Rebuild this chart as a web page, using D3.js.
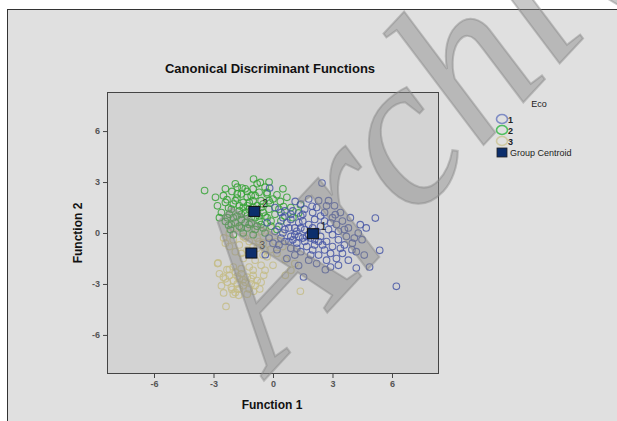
<!DOCTYPE html>
<html><head><meta charset="utf-8">
<script src="https://cdn.jsdelivr.net/npm/d3@7"></script>
<style>body{margin:0;background:#fff}svg{display:block}</style>
</head><body>
<svg id="c" width="617" height="421"></svg>
<script>
const title = "Canonical Discriminant Functions";
const xTicks = [-6, -3, 0, 3, 6];
const yTicks = [-6, -3, 0, 3, 6];
const groups = ["1", "2", "3"];
const legendTitle = "Eco";
const centroidLabel = "Group Centroid";
const watermark = "Archive";
const centroids = [[2.01, -0.04], [-0.94, 1.27], [-1.09, -1.18]];

const group1 = [[2.47,2.94],[1.97,1.57],[1.12,1.86],[-0.17,2.65],[2.3,1.9],[2.7,1.6],[3.14,1.08],[3.0,0.9],[2.6,1.2],[1.6,1.4],[1.4,1.0],[0.9,0.8],[0.5,0.9],[0.3,0.4],[0.1,0.1],[-0.2,-0.3],[0.2,-0.98],[-0.39,-1.28],[0.6,-0.5],[0.9,-0.2],[1.1,0.3],[1.3,0.6],[1.6,0.2],[1.8,0.5],[2.1,0.8],[2.4,0.4],[2.8,0.2],[3.2,0.5],[3.5,0.7],[3.8,0.3],[4.4,0.49],[5.16,0.88],[4.49,-0.39],[3.98,-0.98],[3.6,-0.7],[3.3,-0.4],[3.0,-0.1],[2.7,-0.5],[2.4,-0.2],[2.1,-0.4],[1.8,-0.1],[1.5,-0.3],[1.2,-0.6],[0.9,-0.9],[1.4,-1.1],[1.7,-0.8],[2.0,-1.0],[2.3,-1.3],[2.6,-1.0],[2.9,-1.2],[3.2,-1.5],[3.5,-1.2],[3.8,-1.6],[4.2,-1.1],[4.6,-1.3],[5.38,-1.02],[4.87,-2.0],[4.2,-2.06],[3.3,-1.9],[2.9,-2.0],[2.64,-2.16],[2.2,-1.8],[1.8,-1.6],[1.54,-2.59],[1.29,-1.92],[6.22,-3.14],[0.7,-1.5],[0.5,0.0],[1.0,1.3],[2.0,1.2],[3.4,1.2],[3.9,0.9],[4.1,-0.3],[3.7,-0.2],[1.3,-0.2],[0.8,0.3],[1.9,-0.3],[2.2,0.1],[2.5,-0.7],[1.0,-0.4],[0.4,-0.3],[0.7,0.6],[1.5,0.7],[2.9,0.6],[3.3,0.1],[4.0,-0.6],[2.1,-0.7],[1.6,-0.5],[1.2,0.1],[0.6,1.3],[1.8,2.0],[2.2,1.5],[2.6,0.7],[0.1,1.5],[-0.3,0.6],[0.0,-0.6],[1.1,-1.3],[3.0,-0.8],[3.6,0.2],[4.3,0.0],[1.4,1.7],[2.8,1.9],[0.8,-0.5],[1.1,-0.1],[1.4,0.3],[1.7,-0.2],[2.3,-0.5],[2.0,0.3],[1.5,1.1],[0.6,0.2],[0.3,-0.7],[2.7,-1.6],[3.4,-0.9],[4.7,0.3],[3.1,1.6],[2.4,1.0],[0.9,1.1],[1.9,-1.3],[0.4,1.2],[1.2,-0.9]];

const group2 = [[-3.45,2.5],[-0.98,3.18],[-0.64,2.98],[-1.9,2.9],[-1.56,2.65],[-2.07,2.45],[-1.31,2.45],[-0.3,2.39],[-2.32,1.96],[-1.82,2.06],[-2.24,1.47],[-2.4,1.8],[0.2,2.25],[0.37,1.86],[-0.14,1.76],[0.53,1.56],[1.38,1.66],[1.29,1.18],[-2.4,0.68],[-2.24,0.45],[-2.15,0.2],[-1.82,1.0],[-1.5,1.5],[-1.2,1.8],[-0.8,1.6],[-0.5,1.2],[-0.3,0.9],[-0.7,0.7],[-1.1,0.9],[-1.4,0.6],[-1.7,1.3],[-2.0,1.7],[-1.3,2.1],[-0.9,2.2],[-0.6,1.9],[-0.2,1.4],[0.1,1.1],[0.4,0.7],[-0.1,0.4],[-0.5,0.3],[-0.9,0.2],[-1.3,0.3],[-1.7,0.4],[-2.0,0.9],[-1.9,1.9],[-1.6,2.3],[-1.0,2.6],[-0.4,2.7],[0.0,2.0],[-1.4,1.2],[-1.0,1.5],[-0.7,1.0],[-1.2,0.5],[-1.6,0.8],[-2.6,1.2],[-2.8,1.6],[-2.5,2.2],[-0.2,3.0],[0.7,2.1],[0.9,1.5],[1.0,0.9],[-0.4,0.0],[-1.0,-0.1],[-1.5,0.0],[-2.0,-0.1],[-2.3,0.9],[-0.8,2.9],[-1.8,2.7],[-1.1,2.2],[-0.3,2.3],[0.3,1.4],[-0.1,0.7],[-0.6,0.5],[-1.9,0.6],[-2.2,1.1],[-1.5,1.8],[-0.9,1.2],[-1.2,1.4],[-0.6,1.5],[-1.7,1.6],[-2.4,2.6],[-0.8,0.4],[0.6,1.0],[0.2,0.2],[-1.3,1.0],[-0.9,0.9],[-1.6,1.1],[-2.1,1.4],[-1.8,2.3],[-1.4,2.6],[-0.7,2.4],[-0.5,1.7],[-1.0,1.9],[-1.3,1.6],[-0.4,1.0],[-2.1,0.5],[-1.1,0.6],[-0.2,1.9],[0.5,2.6],[-2.7,0.9],[-2.9,2.1],[-1.6,0.3]];

const group3 = [[-2.49,-0.29],[-2.4,-0.6],[-2.77,-1.76],[-2.32,-2.16],[-2.79,-1.8],[-2.49,-3.53],[-2.37,-4.32],[-1.73,-3.67],[-0.98,-3.43],[-0.67,-3.3],[-0.47,-2.49],[1.38,-3.43],[0.62,-2.49],[-2.07,-3.33],[0.62,-1.57],[-0.14,-0.98],[-1.5,-0.2],[-1.2,-0.5],[-0.8,-0.3],[-0.5,-0.6],[-0.2,-0.2],[0.1,-0.5],[-0.4,-1.0],[-0.8,-0.9],[-1.3,-1.0],[-1.7,-0.7],[-2.0,-0.4],[-1.9,-1.1],[-1.5,-1.5],[-0.9,-1.6],[-0.3,-1.4],[0.2,-1.2],[0.5,-0.8],[-1.1,0.2],[-0.6,0.1],[-2.2,0.0],[-1.8,0.3],[-0.1,0.3],[0.4,-0.1],[-1.0,-1.2],[-0.6,-1.9],[-1.2,-2.0],[0.0,-1.9],[0.9,-2.2],[1.1,-1.8],[-2.2,-2.5],[-1.9,-2.3],[-1.6,-2.4],[-1.3,-2.6],[-1.0,-2.5],[-2.0,-2.8],[-1.7,-2.7],[-1.4,-2.9],[-2.3,-2.9],[-1.8,-3.0],[-1.5,-3.1],[-1.1,-3.0],[-0.8,-2.8],[-2.6,-3.1],[-2.1,-3.2],[-1.2,-3.3],[-1.9,-3.5],[-2.5,-2.6],[-0.6,-2.9],[-1.6,-2.1],[-2.0,-2.0],[-1.0,-2.2],[-0.4,-2.2],[-2.7,-2.4],[-1.3,-3.6],[-1.8,-2.55],[-1.5,-2.75],[-2.2,-2.15],[-1.4,-0.3],[-0.7,-0.5],[-1.0,-0.8],[-1.6,-1.2],[-2.2,-0.8],[-0.5,-1.3],[-1.8,-3.3],[-2.4,-2.7],[-1.1,-2.7],[-1.7,-3.3],[-2.0,-3.6],[-0.9,-3.1]];

const pointColors = ["#4656a6", "#36a336", "#c4bc86"];
const legendColors = ["#7f8cc4", "#4fbf5f", "#cfc9a2"];

const svg = d3.select("#c");
const font = "Arial, 'Liberation Sans', sans-serif";

// outer panel
svg.append("rect").attr("x", 7.5).attr("y", 9.5).attr("width", 700).attr("height", 500)
  .attr("fill", "#e0e0e0").attr("stroke", "#333").attr("stroke-width", 1);

const x = d3.scaleLinear().domain([-8.37, 8.37]).range([107, 439]);
const y = d3.scaleLinear().domain([-8.3, 8.3]).range([374, 92]);

svg.append("rect").attr("x", 107).attr("y", 92).attr("width", 332).attr("height", 282)
  .attr("fill", "#d3d3d3");

// title
svg.append("text").attr("x", 270).attr("y", 73).attr("text-anchor", "middle")
  .attr("font-family", font).attr("font-weight", "bold").attr("font-size", 13).attr("fill", "#111")
  .text(title);

// axes
const xAxis = svg.append("g").attr("transform", "translate(0,374)")
  .call(d3.axisBottom(x).tickValues(xTicks).tickSize(4).tickPadding(3).tickFormat(d => String(d)));
const yAxis = svg.append("g").attr("transform", "translate(107,0)")
  .call(d3.axisLeft(y).tickValues(yTicks).tickSize(4).tickPadding(3).tickFormat(d => String(d)));
[xAxis, yAxis].forEach(a => {
  a.select(".domain").remove();
  a.selectAll(".tick line").attr("stroke", "#444");
  a.selectAll(".tick text").attr("font-family", font).attr("font-size", 9).attr("font-weight", "bold").attr("fill", "#555");
});

svg.append("text").attr("x", 272).attr("y", 409).attr("text-anchor", "middle")
  .attr("font-family", font).attr("font-weight", "bold").attr("font-size", 12).attr("fill", "#111")
  .text("Function 1");
svg.append("text").attr("transform", "translate(82,233) rotate(-90)").attr("text-anchor", "middle")
  .attr("font-family", font).attr("font-weight", "bold").attr("font-size", 12).attr("fill", "#111")
  .text("Function 2");

// points
const plot = svg.append("g");
[[group3, 2], [group2, 1], [group1, 0]].forEach(([data, gi]) => {
  plot.selectAll(null).data(data).enter().append("circle")
    .attr("cx", d => x(d[0])).attr("cy", d => y(d[1])).attr("r", 3.3)
    .attr("fill", "none").attr("stroke", pointColors[gi]).attr("stroke-width", 1.1).attr("stroke-opacity", 0.85);
});

// centroids
plot.selectAll(null).data(centroids).enter().append("rect")
  .attr("x", d => x(d[0]) - 5.5).attr("y", d => y(d[1]) - 5)
  .attr("width", 11).attr("height", 10)
  .attr("fill", "#0c2e6c").attr("stroke", "#111").attr("stroke-width", 1);
plot.selectAll(null).data(centroids).enter().append("text")
  .attr("x", d => x(d[0]) + 8).attr("y", d => y(d[1]) - 4)
  .attr("font-family", font).attr("font-size", 10).attr("fill", "#222")
  .text((d, i) => groups[i]);

// plot frame
svg.append("rect").attr("x", 107.5).attr("y", 92.5).attr("width", 331).attr("height", 281)
  .attr("fill", "none").attr("stroke", "#444").attr("stroke-width", 1);

// legend
svg.append("text").attr("x", 539).attr("y", 107).attr("text-anchor", "middle")
  .attr("font-family", font).attr("font-size", 9).attr("fill", "#222").text(legendTitle);
const ly = d3.scalePoint().domain(groups).range([119, 141]);
groups.forEach((g, i) => {
  svg.append("ellipse").attr("cx", 502).attr("cy", ly(g)).attr("rx", 5.5).attr("ry", 4.5)
    .attr("fill", "none").attr("stroke", legendColors[i]).attr("stroke-width", 1.6);
  svg.append("text").attr("x", 508).attr("y", ly(g) + 4)
    .attr("font-family", font).attr("font-size", 9).attr("font-weight", "bold").attr("fill", "#222").text(g);
});
svg.append("rect").attr("x", 497).attr("y", 148).attr("width", 10).attr("height", 9)
  .attr("fill", "#0c2e6c").attr("stroke", "#222").attr("stroke-width", 0.8);
svg.append("text").attr("x", 510).attr("y", 156)
  .attr("font-family", font).attr("font-size", 9).attr("fill", "#222").text(centroidLabel);

// watermark overlay
svg.append("text").attr("transform", "translate(272,372) rotate(-47)")
  .attr("font-family", "'Liberation Serif', 'DejaVu Serif', serif").attr("font-style", "italic")
  .attr("font-size", 215).attr("fill", "#888").attr("fill-opacity", 0.45)
  .attr("stroke", "#888").attr("stroke-opacity", 0.45).attr("stroke-width", 2)
  .text(watermark);
</script>
</body></html>
